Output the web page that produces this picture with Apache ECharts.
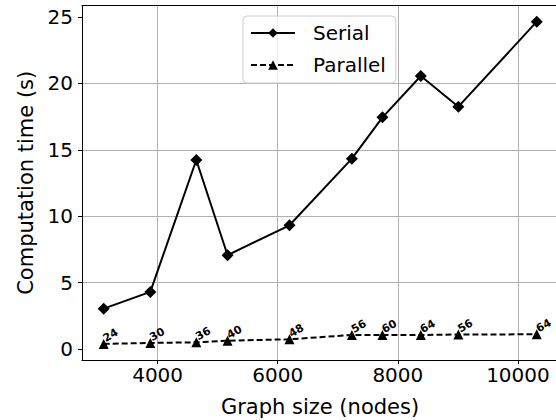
<!DOCTYPE html>
<html>
<head>
<meta charset="utf-8">
<script src="https://cdn.jsdelivr.net/npm/echarts@6/dist/echarts.min.js"></script>
<style>html,body{margin:0;padding:0;background:#fff;overflow:hidden}#c{width:556px;height:420px}</style>
</head>
<body>
<div id="c"></div>
<script>
const graphSizes = [3102, 3879, 4644, 5165, 6196, 7235, 7744, 8383, 9008, 10313];
const serialTimes = [3.05, 4.31, 14.23, 7.07, 9.32, 14.33, 17.44, 20.55, 18.24, 24.63];
const parallelTimes = [0.40, 0.47, 0.52, 0.64, 0.75, 1.07, 1.07, 1.07, 1.11, 1.12];
const parallelLabels = ['24', '30', '36', '40', '48', '56', '60', '64', '56', '64'];
const xTicks = [4000, 6000, 8000, 10000];
const yTicks = [0, 5, 10, 15, 20, 25];

const font = 'DejaVu Sans';
const chart = echarts.init(document.getElementById('c'), null, {renderer: 'svg'});
chart.setOption({
  animation: false,
  backgroundColor: '#ffffff',
  textStyle: {fontFamily: font},
  grid: {left: 82, top: 5.6, right: -30, bottom: 60, show: false, containLabel: false, outerBoundsMode: 'none'},
  xAxis: [{
    type: 'value', min: 2741, max: 11133,
    axisLine: {show: true, onZero: false, lineStyle: {color: '#000', width: 1}},
    axisTick: {show: true, inside: false, length: 4, customValues: xTicks, lineStyle: {color: '#000'}},
    axisLabel: {customValues: xTicks, fontSize: 20, color: '#000', margin: 5, fontFamily: font,
      formatter: v => String(v)},
    splitLine: {show: false}
  }, {
    type: 'value', min: 2741, max: 11133, position: 'top',
    axisLine: {show: true, onZero: false, lineStyle: {color: '#000', width: 1}},
    axisTick: {show: false}, axisLabel: {show: false}, splitLine: {show: false}
  }],
  yAxis: {
    type: 'value', min: -0.81, max: 25.84,
    name: 'Computation time (s)', nameLocation: 'middle', nameGap: 45,
    nameTextStyle: {fontSize: 21, color: '#000', fontFamily: font},
    axisLine: {show: true, onZero: false, lineStyle: {color: '#000', width: 1}},
    axisTick: {show: true, inside: false, length: 4, customValues: yTicks, lineStyle: {color: '#000'}},
    axisLabel: {customValues: yTicks, fontSize: 20, color: '#000', margin: 9, fontFamily: font},
    splitLine: {show: true, showMinLine: false, showMaxLine: false, lineStyle: {color: '#b0b0b0', width: 1}}
  },
  graphic: [{
    type: 'text', x: 320, y: 396,
    style: {text: 'Graph size (nodes)', fontSize: 21, fontFamily: font, fill: '#000', textAlign: 'center', align: 'center'}
  }],
  legend: {
    orient: 'vertical', left: 243, top: 16,
    padding: [7, 10, 8, 7], itemGap: 12, itemWidth: 44, itemHeight: 12,
    backgroundColor: 'rgba(255,255,255,0.8)', borderColor: '#cccccc', borderWidth: 1, borderRadius: 4,
    textStyle: {fontSize: 20, color: '#000', fontFamily: font, padding: [0, 0, 0, 13]},
    data: ['Serial', 'Parallel']
  },
  series: [
    {
      name: 'Serial', type: 'line',
      data: graphSizes.map((x, i) => [x, serialTimes[i]]),
      symbol: 'diamond', symbolSize: 12,
      lineStyle: {color: '#000', width: 2},
      itemStyle: {color: '#000'},
      markLine: {
        silent: true, symbol: 'none', label: {show: false}, z: 1,
        lineStyle: {color: '#b0b0b0', width: 1, type: 'solid'},
        data: xTicks.map(v => ({xAxis: v}))
      },
      z: 3
    },
    {
      name: 'Parallel', type: 'line',
      data: graphSizes.map((x, i) => [x, parallelTimes[i]]),
      symbol: 'triangle', symbolSize: 10,
      lineStyle: {color: '#000', width: 2, type: [6, 3]},
      itemStyle: {color: '#000'},
      label: {
        show: true, position: 'right', distance: -2, rotate: 30,
        align: 'left', verticalAlign: 'bottom',
        fontSize: 11, fontWeight: 'bold', color: '#000', fontFamily: font,
        formatter: p => parallelLabels[p.dataIndex]
      },
      z: 3
    }
  ]
});
</script>
</body>
</html>
